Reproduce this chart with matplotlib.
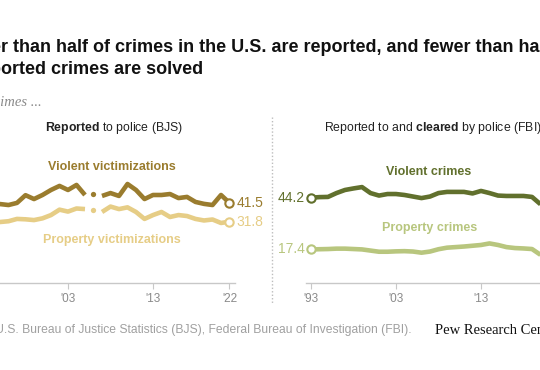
import matplotlib
matplotlib.use("Agg")
import matplotlib.pyplot as plt
import numpy as np
from matplotlib.lines import Line2D

# ---- data ----
bjs_years = list(range(1994, 2023))
bjs_violent = [40.5, 40.9, 40.4, 41.5, 45.5, 43.5, 45.6, 48.2, 50.3, 48.2, 50.8, 45.6,
               46.1, 45.1, 46.6, 45.1, 51.3, 48.2, 43.5, 45.6, 45.6, 46.1, 44.0, 44.6,
               42.0, 41.0, 40.4, 45.6, 41.5]
bjs_property = [31.6, 31.6, 32.0, 33.2, 33.0, 32.6, 33.5, 35.2, 38.0, 37.0, 38.6, 38.3,
                37.8, 36.8, 39.6, 38.3, 39.2, 36.8, 33.2, 35.2, 36.8, 34.2, 35.2, 34.7,
                33.2, 32.4, 32.9, 31.1, 31.8]
bjs_break_year = 2006  # shown as a lone point

fbi_years = list(range(1993, 2021))
fbi_violent = [44.2, 44.5, 44.6, 46.6, 48.2, 49.0, 49.7, 46.6, 45.3, 46.1, 46.1, 45.6,
               44.8, 44.0, 44.8, 46.6, 47.2, 47.2, 47.2, 46.4, 47.7, 46.6, 45.3, 45.1,
               45.1, 45.1, 44.6, 40.8]
fbi_property = [17.4, 17.5, 17.6, 17.8, 17.8, 17.6, 17.4, 16.8, 16.2, 16.2, 16.4, 16.5,
                16.3, 15.7, 16.3, 17.5, 18.3, 18.6, 18.9, 19.3, 19.7, 20.5, 19.7, 18.6,
                18.1, 17.9, 17.6, 14.6]

tick_years = [1993, 2003, 2013, 2022]
tick_labels = ["'93", "'03", "'13", "'22"]

c_bjs_v = "#9a7c2e"
c_bjs_p = "#e6cd86"
c_fbi_v = "#61702d"
c_fbi_p = "#b8c67e"

W, H = 540, 370
plt.rcParams['font.family'] = ['Liberation Sans', 'DejaVu Sans']
plt.rcParams['mathtext.fontset'] = 'custom'
plt.rcParams['mathtext.rm'] = 'Liberation Sans'
plt.rcParams['mathtext.bf'] = 'Liberation Sans:bold'

fig = plt.figure(figsize=(W / 100, H / 100), dpi=100)
fig.patch.set_facecolor('white')

PX_YEAR = 8.5
PX_UNIT = 1.93
x0, x1 = 1992.4, 2022.7
ax_w = (x1 - x0) * PX_YEAR
ax_h = 60 * PX_UNIT
bottom = (H - 283) / H

axL = fig.add_axes([-22.1 / W, bottom, ax_w / W, ax_h / H])
axR = fig.add_axes([305.9 / W, bottom, ax_w / W, ax_h / H])

for ax in (axL, axR):
    ax.set_xlim(x0, x1)
    ax.set_ylim(0, 60)
    for s in ('top', 'right', 'left'):
        ax.spines[s].set_visible(False)
    ax.spines['bottom'].set_color('#c8c8c8')
    ax.spines['bottom'].set_linewidth(1)
    ax.set_yticks([])
    ax.set_xticks(tick_years)
    ax.set_xticklabels(tick_labels)
    ax.tick_params(axis='x', length=4, color='#c8c8c8', labelcolor='#8a8a8a',
                   labelsize=8.5, pad=3.5)
    ax.patch.set_alpha(0)

# left panel: BJS with a break at 2006
yrs = np.array(bjs_years)
for vals, col in ((bjs_property, c_bjs_p), (bjs_violent, c_bjs_v)):
    v = np.array(vals, dtype=float)
    line = v.copy()
    line[yrs == bjs_break_year] = np.nan
    axL.plot(yrs, line, color=col, lw=3.3, solid_joinstyle='round', solid_capstyle='butt')
    axL.plot([bjs_break_year], v[yrs == bjs_break_year], 'o', color=col, ms=3.8, mew=0)
    axL.plot([yrs[-1]], [v[-1]], 'o', ms=6, mfc='white', mec=col, mew=1.5, zorder=5)
    axL.annotate(f"{v[-1]:.1f}", xy=(yrs[-1], v[-1]), xytext=(7, 0),
                 textcoords='offset pixels', ha='left', va='center', fontsize=10,
                 color=col, annotation_clip=False)

axL.text(2008.2, 60.1, "Violent victimizations", ha='center', va='center',
         fontsize=9, fontweight='bold', color=c_bjs_v, clip_on=False)
axL.text(2008.2, 22.3, "Property victimizations", ha='center', va='center',
         fontsize=9, fontweight='bold', color=c_bjs_p, clip_on=False)

# right panel: FBI
for vals, col in ((fbi_property, c_fbi_p), (fbi_violent, c_fbi_v)):
    axR.plot(fbi_years, vals, color=col, lw=3.3, solid_joinstyle='round', solid_capstyle='butt',
             clip_on=False)
    axR.plot([fbi_years[0]], [vals[0]], 'o', ms=6, mfc='white', mec=col, mew=1.5, zorder=5)
    axR.annotate(f"{vals[0]:.1f}", xy=(fbi_years[0], vals[0]), xytext=(-6, 0),
                 textcoords='offset pixels', ha='right', va='center', fontsize=10,
                 color=col, annotation_clip=False)

axR.text(2006.8, 57.5, "Violent crimes", ha='center', va='center',
         fontsize=9, fontweight='bold', color=c_fbi_v, clip_on=False)
axR.text(2006.9, 28.5, "Property crimes", ha='center', va='center',
         fontsize=9, fontweight='bold', color=c_fbi_p, clip_on=False)

# panel headers
fig.text(45 / W, 1 - 128 / H, r"$\mathbf{Reported}$ to police (BJS)", ha='left', va='center',
         fontsize=8.8, color='#222222')
fig.text(324 / W, 1 - 128 / H, r"Reported to and $\mathbf{cleared}$ by police (FBI)",
         ha='left', va='center', fontsize=8.8, color='#222222')

# dotted divider
fig.add_artist(Line2D([272 / W, 272 / W], [1 - 117 / H, 1 - 303 / H], transform=fig.transFigure,
                      color='#bdbdbd', lw=1, linestyle=(0, (1, 1.5))))

# text that runs off the left edge of the picture
renderer = fig.canvas.get_renderer()


def cut_text(prefix, rest, x, y, **kw):
    probe = fig.text(0, 0, prefix, **kw)
    w = probe.get_window_extent(renderer).width
    probe.remove()
    fig.text((x - w) / W, 1 - y / H, prefix + rest, va='center', **kw)


title_kw = dict(fontsize=13, fontweight='bold', color='#111111')
cut_text("Fewe", "r than half of crimes in the U.S. are reported, and fewer than half", 1, 48, **title_kw)
cut_text("of rep", "orted crimes are solved", 1, 69, **title_kw)
cut_text("% of cr", "imes ...", 0.5, 102, family=['Liberation Serif', 'DejaVu Serif'],
         style='italic', fontsize=10.5, color='#8a8a8a')
cut_text("Source: U", ".S. Bureau of Justice Statistics (BJS), Federal Bureau of Investigation (FBI).",
         4, 330, fontsize=8.7, color='#a0a0a0')

fig.text(435 / W, 1 - 330 / H, "Pew Research Center", ha='left', va='center',
         family=['Liberation Serif', 'DejaVu Serif'], fontsize=10.5, color='#111111')

fig.savefig("out.png", dpi=100)
